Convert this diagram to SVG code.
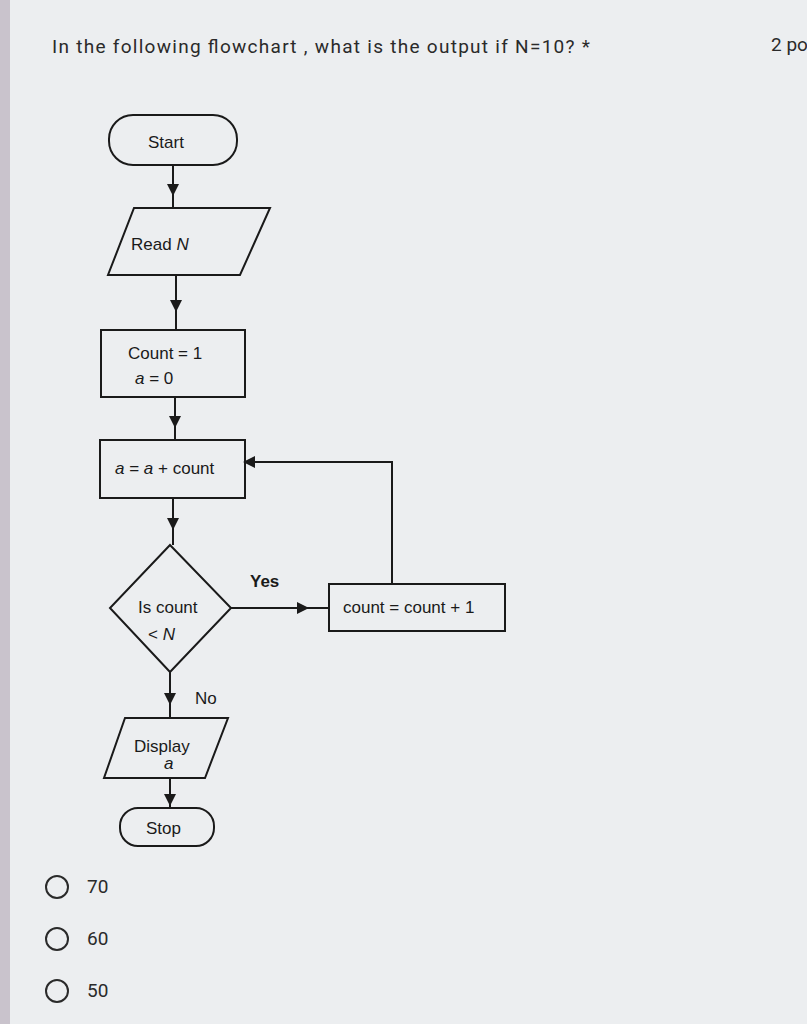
<svg xmlns="http://www.w3.org/2000/svg" width="807" height="1024" viewBox="0 0 807 1024">
<style>
.s{fill:none;stroke:#1a1a1a;stroke-width:2}
.t{font-family:"Liberation Sans",Arial,sans-serif;fill:#1a1a1a;font-size:17px}
.q{font-family:"Roboto","Liberation Sans",sans-serif;fill:#2a2a2a;font-size:19px}
.c{fill:none;stroke:#2a2a2a;stroke-width:2}
</style>
<defs><marker id="ah" viewBox="0 0 10 10" refX="5" refY="5" markerWidth="6" markerHeight="6" orient="auto"><path d="M0,0L10,5L0,10z" fill="#1a1a1a"/></marker></defs>
<rect width="807" height="1024" fill="#e9ebee"/>
<rect x="0" y="0" width="10" height="1024" fill="#c9c3cc"/>
<rect x="10" y="0" width="797" height="1024" fill="#eceef0"/>
<text class="q" x="52" y="53" textLength="538" lengthAdjust="spacing">In the following flowchart ,  what is the output   if N=10? *</text>
<text class="q" x="771" y="51" font-size="15">2 poi</text>
<g id="connectors" class="s">
<path d="M173,165V208"/>
<path d="M173,165V190" marker-end="url(#ah)"/>
<path d="M176,275V330"/><path d="M176,275V306" marker-end="url(#ah)"/>
<path d="M175,397V440"/><path d="M175,397V422" marker-end="url(#ah)"/>
<path d="M173,498V545"/><path d="M173,498V524" marker-end="url(#ah)"/>
<path d="M231,608H329"/><path d="M231,608H303" marker-end="url(#ah)"/>
<path d="M392,584V462H249" marker-end="url(#ah)"/>
<path d="M170,672V718"/><path d="M170,672V699" marker-end="url(#ah)"/>
<path d="M170,778V808"/><path d="M170,778V800" marker-end="url(#ah)"/>
</g>
<text class="t" x="250" y="587" font-weight="bold" font-size="15">Yes</text>
<text class="t" x="195" y="704">No</text>
<g id="start"><rect class="s" x="109" y="115" width="128" height="50" rx="24"/><text class="t" x="148" y="148">Start</text></g>
<g id="read"><path class="s" d="M134,208H270L240,275H108Z"/><text class="t" x="131" y="250">Read <tspan font-style="italic">N</tspan></text></g>
<g id="init"><rect class="s" x="101" y="330" width="144" height="67"/><text class="t" x="128" y="359">Count = 1</text><text class="t" x="135" y="384"><tspan font-style="italic">a</tspan> = 0</text></g>
<g id="accum"><rect class="s" x="100" y="440" width="145" height="58"/><text class="t" x="115" y="474"><tspan font-style="italic">a</tspan> = <tspan font-style="italic">a</tspan> + count</text></g>
<g id="decision"><path class="s" d="M170,545L231,608L170,672L110,608Z"/><text class="t" x="138" y="613">Is count</text><text class="t" x="148" y="640">&lt; <tspan font-style="italic">N</tspan></text></g>
<g id="incr"><rect class="s" x="329" y="584" width="176" height="47"/><text class="t" x="343" y="613">count = count + 1</text></g>
<g id="display"><path class="s" d="M125,718H228L205,778H104Z"/><text class="t" x="134" y="752">Display</text><text class="t" x="164" y="769" font-style="italic">a</text></g>
<g id="stop"><rect class="s" x="120" y="808" width="94" height="38" rx="18"/><text class="t" x="146" y="834">Stop</text></g>
<circle class="c" cx="57" cy="887" r="11"/><text class="q" x="87" y="893" font-size="16">70</text>
<circle class="c" cx="57" cy="939" r="11"/><text class="q" x="87" y="945" font-size="16">60</text>
<circle class="c" cx="57" cy="991" r="11"/><text class="q" x="87" y="997" font-size="16">50</text>
</svg>
